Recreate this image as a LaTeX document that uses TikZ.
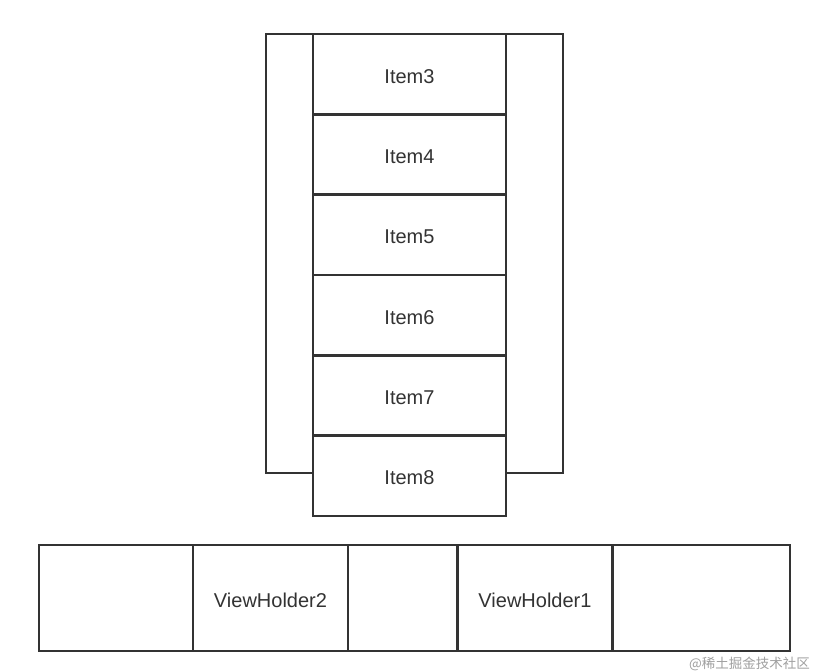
\documentclass[tikz,border=0pt]{standalone}
\usepackage{fontspec}
\setmainfont{Liberation Sans}
\newfontfamily\cjk{Noto Sans CJK SC}
\definecolor{linec}{HTML}{333333}
\definecolor{textc}{HTML}{333333}
\definecolor{wmc}{HTML}{A0A0A0}
\newcommand{\dn}[1]{\smash{\raisebox{-9pt}{#1}}}
\tikzset{
  boxst/.style={draw=linec, line width=2.6pt, fill=white, inner sep=0pt, text=textc,
    font=\fontsize{20}{24}\selectfont},
  itemst/.style={boxst, minimum width=193pt, minimum height=80.33pt},
  vhst/.style={boxst, minimum width=155pt, minimum height=106pt},
}
\begin{document}
\begin{tikzpicture}[x=1pt,y=-1pt]
\useasboundingbox (0,0) rectangle (829,671);
\fill[white] (0,0) rectangle (829,671);
% outer frame of list
\node[boxst, minimum width=297pt, minimum height=439pt] (frame) at (414.5,253.5) {};
% items
\node[itemst] (i3) at (409.5,74.17) {\dn{Item3}};
\node[itemst] (i4) at (409.5,154.5) {\dn{Item4}};
\node[itemst] (i5) at (409.5,234.83) {\dn{Item5}};
\node[itemst] (i6) at (409.5,315.17) {\dn{Item6}};
\node[itemst] (i7) at (409.5,395.5) {\dn{Item7}};
\node[itemst] (i8) at (409.5,475.83) {\dn{Item8}};
% bottom row
\node[boxst, minimum width=751pt, minimum height=106pt] (row) at (414.5,598) {};
\node[vhst] (vh2) at (270.5,598) {\dn{ViewHolder2}};
\node[vhst] (vh1) at (535,598) {\dn{ViewHolder1}};
% watermark
\node[anchor=east, inner sep=0pt, text=wmc, font=\cjk\fontsize{13.5}{15}\selectfont] (wm) at (810,664) {@稀土掘金技术社区};
\end{tikzpicture}
\end{document}
